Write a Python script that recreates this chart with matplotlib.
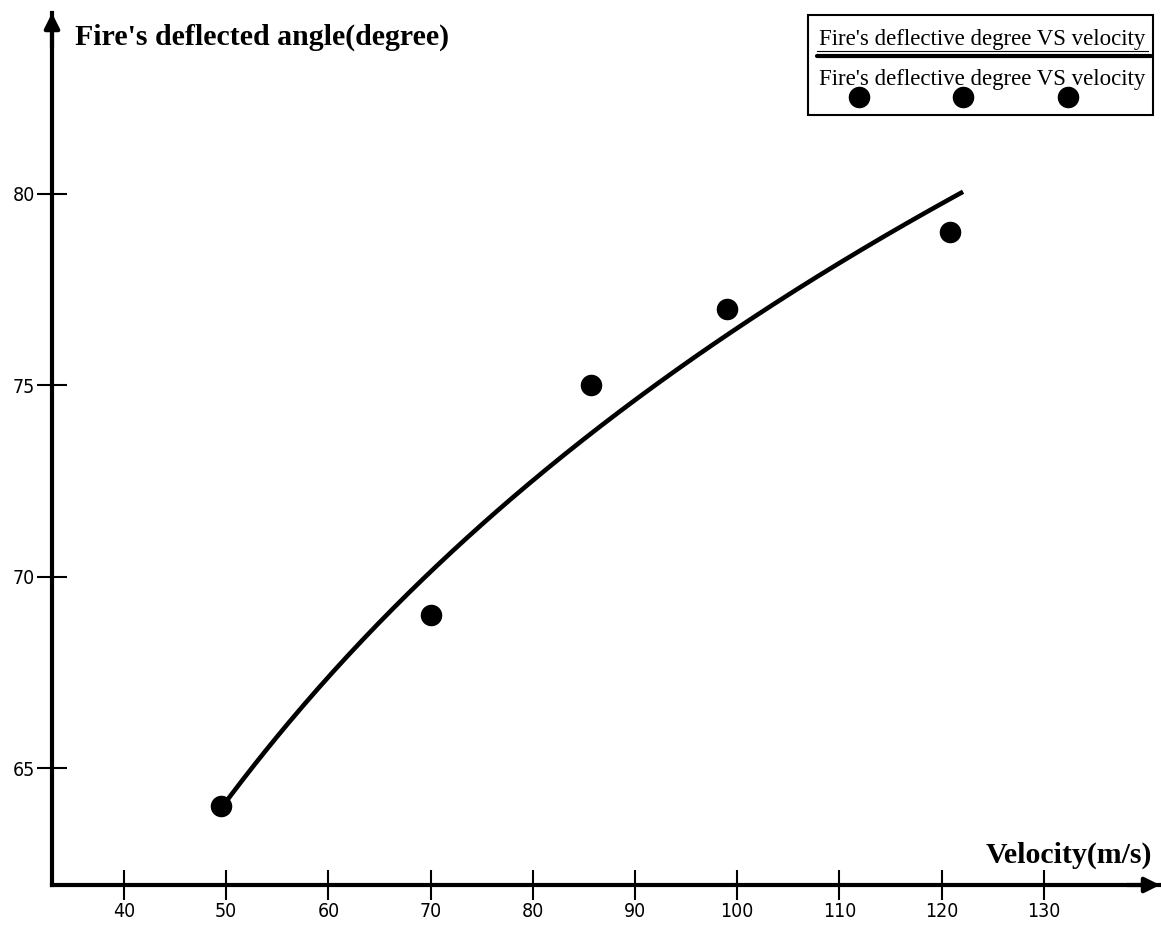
import numpy as np
import matplotlib
matplotlib.use("Agg")
import matplotlib.pyplot as plt
from matplotlib.patches import Rectangle
from matplotlib.lines import Line2D

# Data
velocity = [49.5, 70.0, 85.7, 99.0, 120.8]
angle = [64.0, 69.0, 75.0, 77.0, 79.0]
x_ticks = [40, 50, 60, 70, 80, 90, 100, 110, 120, 130]
y_ticks = [65, 70, 75, 80]
legend_label = "Fire's deflective degree VS velocity"

# logarithmic trend line fitted to the data
b, a = np.polyfit(np.log(velocity), angle, 1)
xfit = np.linspace(min(velocity), 122.1, 200)
yfit = a + b * np.log(xfit)

W, H = 1161, 926
fig = plt.figure(figsize=(W / 100, H / 100), dpi=100)
ax_left, ax_bottom = 52 / W, (H - 885) / H
ax_right, ax_top = 1160 / W, (H - 13) / H
ax = fig.add_axes([ax_left, ax_bottom, ax_right - ax_left, ax_top - ax_bottom])

x0 = 40 - (124 - 52) / 10.22
x1 = 40 + (1160 - 124) / 10.22
y0 = 65 - (885 - 768) / 38.27
y1 = 80 + (194 - 13) / 38.27
ax.set_xlim(x0, x1)
ax.set_ylim(y0, y1)

ax.plot(xfit, yfit, color="black", lw=3.3, solid_capstyle="butt", zorder=3)
ax.plot(velocity, angle, "o", color="black", ms=14.5, zorder=4)

for s in ["top", "right"]:
    ax.spines[s].set_visible(False)
for s in ["left", "bottom"]:
    ax.spines[s].set_linewidth(3)
ax.set_xticks(x_ticks)
ax.set_yticks(y_ticks)
ax.tick_params(direction="inout", length=22, width=1.5, labelsize=14,
               pad=1, labelcolor="black")
for lab in ax.get_xticklabels() + ax.get_yticklabels():
    lab.set_fontfamily("DejaVu Sans")
    lab.set_fontstretch("condensed")
    lab.set_fontweight("light")

# axis arrows
ax.annotate("", xy=(1.0, 0), xytext=(0.97, 0), xycoords="axes fraction",
            arrowprops=dict(arrowstyle="-|>,head_length=0.9,head_width=0.45",
                            color="black", lw=3, shrinkA=0, shrinkB=0),
            annotation_clip=False)
ax.annotate("", xy=(0, 1.0), xytext=(0, 0.96), xycoords="axes fraction",
            arrowprops=dict(arrowstyle="-|>,head_length=0.9,head_width=0.45",
                            color="black", lw=3, shrinkA=0, shrinkB=0),
            annotation_clip=False)

serif = ["Liberation Serif", "DejaVu Serif"]
fig.text(75 / W, 1 - 37 / H, "Fire's deflected angle(degree)", fontsize=21.5,
         fontweight="bold", family=serif, ha="left", va="center")
fig.text(1152 / W, 1 - 855 / H, "Velocity(m/s)", fontsize=21.5,
         fontweight="bold", family=serif, ha="right", va="center")

# legend box (drawn manually: text above its sample)
fig.add_artist(Rectangle((808 / W, 1 - 115 / H), (1153 - 808) / W, (115 - 15) / H,
                         transform=fig.transFigure, fill=False, ec="black", lw=1.5))
fig.text(982 / W, 1 - 39 / H, legend_label, fontsize=16.5, family=serif,
         ha="center", va="center")
fig.add_artist(Line2D([817 / W, 1148 / W], [1 - 51 / H, 1 - 51 / H],
                      transform=fig.transFigure, color="black", lw=0.8))
fig.add_artist(Line2D([817 / W, 1151 / W], [1 - 56 / H, 1 - 56 / H],
                      transform=fig.transFigure, color="black", lw=3,
                      solid_capstyle="round"))
fig.add_artist(Line2D([859 / W, 963 / W, 1068 / W], [1 - 97 / H] * 3,
                      transform=fig.transFigure, color="black", ls="none",
                      marker="o", ms=14.5))
fig.text(982 / W, 1 - 79 / H, legend_label, fontsize=16.5, family=serif,
         ha="center", va="center")

fig.savefig("out.png", dpi=100)
